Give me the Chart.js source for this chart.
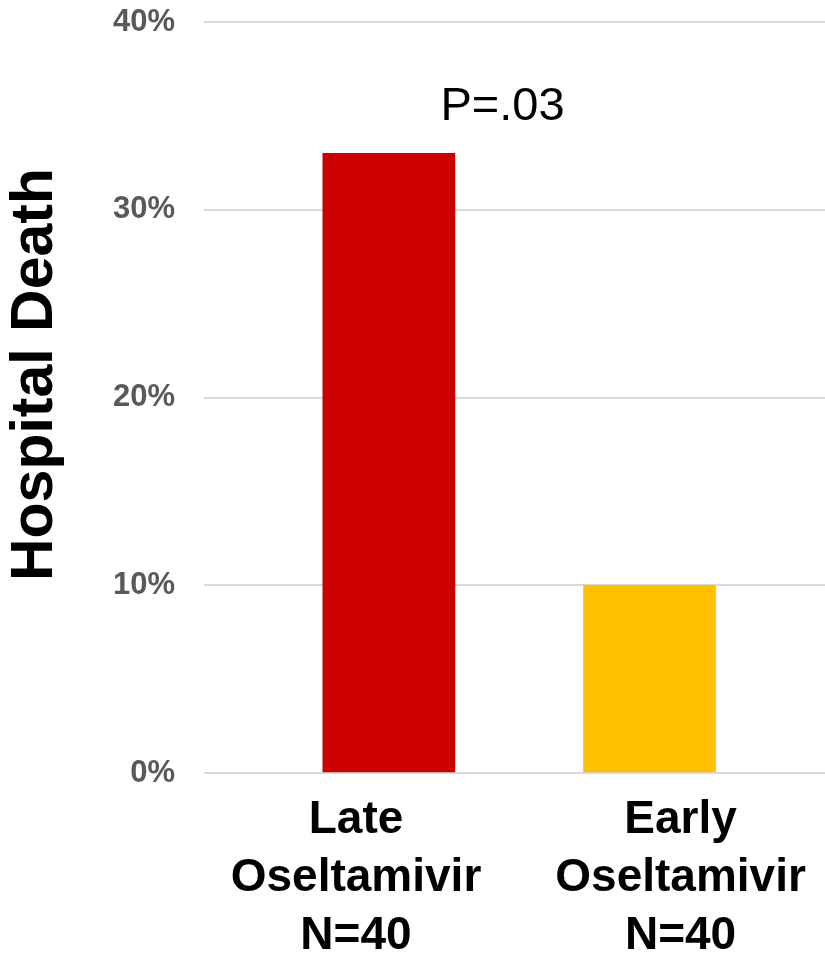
<!DOCTYPE html>
<html>
<head>
<meta charset="utf-8">
<title>Hospital Death by Oseltamivir Timing</title>
<script src="https://cdn.jsdelivr.net/npm/chart.js@4/dist/chart.umd.min.js"></script>
<style>
  html, body { margin: 0; padding: 0; background: #ffffff; }
  canvas { display: block; }
</style>
</head>
<body>
<canvas id="chart" width="825" height="953"></canvas>
<script>
// Groups compared, and in-hospital death rate (%) for each
const categories = [
  ['Late', 'Oseltamivir', 'N=40'],
  ['Early', 'Oseltamivir', 'N=40']
];
const deathRate = [33, 10];
const barColors = ['#CC0000', '#FFC000'];
const yTicks = [0, 10, 20, 30, 40];
const pValueText = 'P=.03';
const yTitle = 'Hospital Death';

const FONT = '"Liberation Sans", Arial, Helvetica, sans-serif';

// Text drawn on top of the plot: p-value and rotated y-axis title
const textPlugin = {
  id: 'chartText',
  afterDraw(chart) {
    const { ctx, scales } = chart;
    ctx.save();
    ctx.fillStyle = '#000000';
    ctx.textAlign = 'center';
    ctx.textBaseline = 'alphabetic';
    ctx.font = '47px ' + FONT;
    ctx.fillText(pValueText, scales.x.getPixelForValue(0.436), scales.y.getPixelForValue(34.8));

    ctx.translate(36, scales.y.getPixelForValue(20) - 23);
    ctx.rotate(-Math.PI / 2);
    ctx.textBaseline = 'middle';
    ctx.font = 'bold 59px ' + FONT;
    ctx.fillText(yTitle, 0, 0);
    ctx.restore();
  }
};

new Chart(document.getElementById('chart'), {
  type: 'bar',
  data: {
    datasets: [{
      data: deathRate.map((v, i) => ({ x: i, y: v })),
      backgroundColor: barColors,
      borderWidth: 0,
      barThickness: 132
    }]
  },
  options: {
    responsive: false,
    animation: false,
    devicePixelRatio: 1,
    layout: { padding: { top: 22, right: 0, bottom: 0, left: 0 } },
    plugins: {
      legend: { display: false },
      tooltip: { enabled: false }
    },
    scales: {
      x: {
        type: 'linear',
        offset: false,
        min: -0.709,
        max: 1.673,
        grid: { display: false, drawTicks: false },
        border: { display: false },
        afterBuildTicks(scale) {
          scale.ticks = [{ value: -0.126 }, { value: 1.119 }];
        },
        afterFit(scale) {
          scale.height = 180;
          scale.paddingLeft = 0;
          scale.paddingRight = 0;
        },
        ticks: {
          autoSkip: false,
          maxRotation: 0,
          minRotation: 0,
          padding: 18,
          color: '#000000',
          font: { family: FONT, size: 46, weight: 'bold', lineHeight: 1.26 },
          callback: (value, index) => categories[index]
        }
      },
      y: {
        min: 0,
        max: 40,
        grid: { color: '#d9d9d9', lineWidth: 2, drawTicks: false },
        border: { display: false },
        afterBuildTicks(scale) {
          scale.ticks = yTicks.map(v => ({ value: v }));
        },
        afterFit(scale) {
          scale.width = 204;
          scale.paddingTop = 0;
          scale.paddingBottom = 0;
        },
        ticks: {
          padding: 29,
          color: '#595959',
          font: { family: FONT, size: 31, weight: 'bold' },
          callback: v => v + '%'
        }
      }
    }
  },
  plugins: [textPlugin]
});
</script>
</body>
</html>
